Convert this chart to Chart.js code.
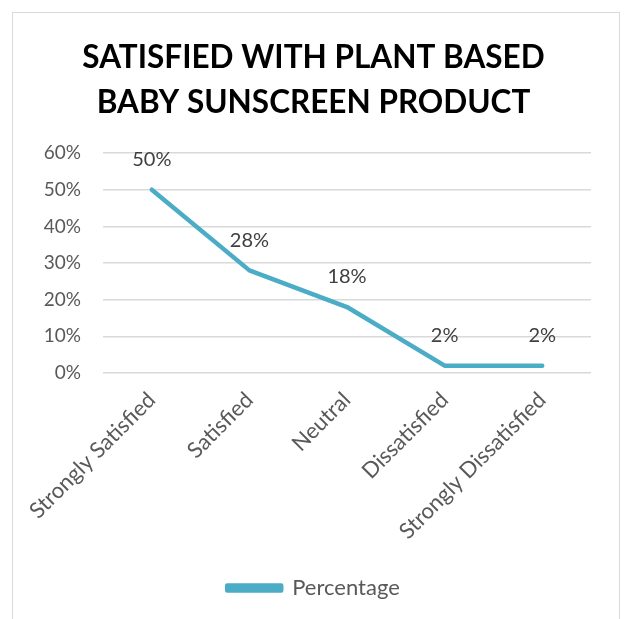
<!DOCTYPE html>
<html>
<head>
<meta charset="utf-8">
<script src="https://cdn.jsdelivr.net/npm/chart.js@4.4.1/dist/chart.umd.min.js"></script>
<style>
  html, body { margin: 0; padding: 0; background: #fff; }
  #wrap { position: relative; width: 627px; height: 619px; }
  #frame { position: absolute; left: 12px; top: 12px; width: 608px; height: 620px; border: 1px solid #d9d9d9; box-sizing: border-box; }
  canvas { position: absolute; left: 0; top: 0; }
</style>
</head>
<body>
<div id="wrap">
  <div id="frame"></div>
  <canvas id="chart" width="627" height="619"></canvas>
</div>
<script>
const categories = ['Strongly Satisfied', 'Satisfied', 'Neutral', 'Dissatisfied', 'Strongly Dissatisfied'];
const percentages = [0.50, 0.28, 0.18, 0.02, 0.02];
const yTicks = [0, 0.1, 0.2, 0.3, 0.4, 0.5, 0.6];
const titleLines = ['SATISFIED WITH PLANT BASED', 'BABY SUNSCREEN PRODUCT'];

const lineColor = '#4bacc6';
const fontFamily = 'Lato, "Open Sans", sans-serif';

// labels above each point, like the excel data labels
const pointLabels = {
  id: 'pointLabels',
  afterDatasetsDraw(chart) {
    const ctx = chart.ctx;
    const meta = chart.getDatasetMeta(0);
    ctx.save();
    ctx.font = '20px ' + fontFamily;
    ctx.fillStyle = '#404040';
    ctx.textAlign = 'center';
    ctx.textBaseline = 'middle';
    meta.data.forEach((pt, i) => {
      ctx.fillText(Math.round(percentages[i] * 100) + '%', pt.x, pt.y - 30);
    });
    ctx.restore();
  }
};

new Chart(document.getElementById('chart'), {
  type: 'line',
  data: {
    labels: categories,
    datasets: [{
      label: 'Percentage',
      data: percentages,
      borderColor: lineColor,
      backgroundColor: lineColor,
      borderWidth: 4.5,
      borderCapStyle: 'round',
      borderJoinStyle: 'round',
      pointRadius: 0,
      tension: 0,
    }],
  },
  options: {
    responsive: false,
    animation: false,
    layout: { padding: { left: 36, right: 36, top: 35, bottom: 10 } },
    plugins: {
      tooltip: { enabled: false },
      title: {
        display: true,
        text: titleLines,
        color: '#000',
        font: { family: fontFamily, size: 31.5, weight: 'bold', lineHeight: 1.43 },
        padding: { top: 0, bottom: 28 },
      },
      legend: {
        position: 'bottom',
        labels: {
          color: '#595959',
          font: { family: fontFamily, size: 22 },
          boxWidth: 54,
          boxHeight: 5,
          padding: 10,
        },
      },
    },
    scales: {
      x: {
        offset: true,
        grid: { display: false },
        border: { display: false },
        afterFit(axis) { axis.height = 194; },
        ticks: {
          color: '#595959',
          font: { family: fontFamily, size: 22 },
          maxRotation: 45,
          minRotation: 45,
          padding: 6,
        },
      },
      y: {
        min: 0,
        max: 0.6,
        afterBuildTicks(axis) { axis.ticks = yTicks.map(v => ({ value: v })); },
        afterFit(axis) { axis.width = 67; },
        grid: { color: '#d9d9d9', lineWidth: 1.5, drawTicks: false },
        border: { display: false },
        ticks: {
          color: '#595959',
          font: { family: fontFamily, size: 19 },
          padding: 22,
          callback: v => Math.round(v * 100) + '%',
        },
      },
    },
  },
  plugins: [pointLabels],
});
</script>
</body>
</html>
